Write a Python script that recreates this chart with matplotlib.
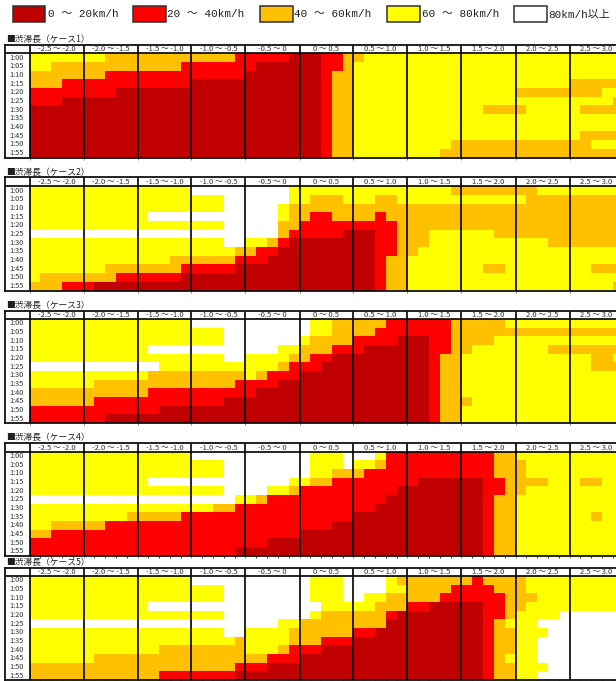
import numpy as np
import matplotlib
matplotlib.use("Agg")
import matplotlib.pyplot as plt
from matplotlib.colors import ListedColormap, BoundaryNorm
from matplotlib.patches import Rectangle

plt.rcParams["font.family"] = ["Noto Sans CJK JP", "DejaVu Sans"]

W, H = 616, 681

# speed classes: 0 dark red, 1 red, 2 orange, 3 yellow, 4 white
speed_labels = ["0 ～ 20km/h", "20 ～ 40km/h", "40 ～ 60km/h", "60 ～ 80km/h", "80km/h以上"]
speed_colors = ["#C00000", "#FF0000", "#FFC000", "#FFFF00", "#FFFFFF"]
times = ["1:00", "1:05", "1:10", "1:15", "1:20", "1:25", "1:30", "1:35", "1:40", "1:45", "1:50", "1:55"]
ranges = ["-2.5 ～ -2.0", "-2.0 ～ -1.5", "-1.5 ～ -1.0", "-1.0 ～ -0.5", "-0.5 ～ 0", "0 ～ 0.5",
          "0.5 ～ 1.0", "1.0 ～ 1.5", "1.5 ～ 2.0", "2.0 ～ 2.5", "2.5 ～ 3.0"]
titles = ["■渋滞長（ケース1）", "■渋滞長（ケース2）", "■渋滞長（ケース3）", "■渋滞長（ケース4）", "■渋滞長（ケース5）"]

case1 = [
    "33333 33222 22222 22221 11110 00112 23333 33333 33333 33333 33333",
    "33222 22222 22221 11111 10000 00112 33333 33333 33333 33333 33333",
    "22222 22111 11111 11111 00000 00122 33333 33333 33333 33333 33333",
    "22211 11111 11111 00000 00000 00122 33333 33333 33333 33333 22222",
    "11111 11100 00000 00000 00000 00122 33333 33333 33333 22222 22233",
    "11100 00000 00000 00000 00000 00122 33333 33333 33333 33333 33332",
    "00000 00000 00000 00000 00000 00122 33333 33333 33222 23333 32222",
    "00000 00000 00000 00000 00000 00122 33333 33333 33333 33333 33333",
    "00000 00000 00000 00000 00000 00122 33333 33333 33333 33333 33333",
    "00000 00000 00000 00000 00000 00122 33333 33333 33333 33333 32222",
    "00000 00000 00000 00000 00000 00122 33333 33332 22222 22222 22333",
    "00000 00000 00000 00000 00000 00122 33333 33322 22222 22222 22222",
]
case2 = [
    "33333 33333 33333 44444 44443 33333 33333 33332 22222 22333 33333",
    "33333 33333 33333 33344 44443 32223 33223 33333 33333 32222 22222",
    "33333 33333 33333 33344 44432 22222 22222 22222 22222 22222 22222",
    "33333 33333 34444 44444 44432 21122 22122 22222 22222 22222 22222",
    "33333 33333 33333 33344 44422 11111 11112 22222 22222 22222 22222",
    "44444 44444 44444 44444 44421 11110 00112 22333 33322 22222 22222",
    "33333 33333 33333 33344 33210 00000 00112 22333 33333 33322 22222",
    "33333 33333 33333 33332 21100 00000 00112 23333 33333 33333 33333",
    "33333 33333 33322 22221 11000 00000 00122 33333 33333 33333 33333",
    "33333 33222 22221 11110 00000 00000 00122 33333 33223 33333 33222",
    "32222 22211 11110 00000 00000 00000 00122 33333 33333 33333 33333",
    "22211 10000 00000 00000 00000 00000 00122 33333 33333 33333 33332",
]
case3 = [
    "33333 33333 33333 44444 44444 43322 22211 11112 22223 33333 33333",
    "33333 33333 33333 33344 44444 43322 22111 11112 22222 22222 22222",
    "33333 33333 33333 33344 44444 32222 11110 00112 22233 33333 33333",
    "33333 33333 34444 44444 44433 22211 10000 00112 23333 33322 22222",
    "33333 33333 33333 33344 33332 21100 00000 00122 33333 33333 33223",
    "44444 44444 44333 33333 33321 11000 00000 00122 33333 33333 33222",
    "33333 33333 32222 22222 32111 00000 00000 00122 33333 33333 33333",
    "33333 32222 22222 22221 11100 00000 00000 00122 33333 33333 33333",
    "22222 22222 21111 11111 10000 00000 00000 00122 33333 33333 33333",
    "22222 21111 11111 11100 00000 00000 00000 00122 23333 33333 33333",
    "11111 11111 11000 00000 00000 00000 00000 00122 33333 33333 33333",
    "11111 11000 00000 00000 00000 00000 00000 00122 33333 33333 33333",
]
case4 = [
    "33333 33333 33333 44444 44444 43334 44311 11111 11122 33333 33333",
    "33333 33333 33333 33344 44444 43334 33211 11111 11122 23333 33333",
    "33333 33333 33333 33344 44444 43322 21111 11111 11122 23333 33333",
    "33333 33333 34444 44444 44443 32211 11111 10000 00112 22233 32233",
    "33333 33333 33333 33344 44332 11111 11110 00000 00112 23333 33333",
    "44444 44444 44444 44443 32111 11111 11100 00000 00122 33333 33333",
    "33333 33333 33333 33221 11111 11111 11000 00000 00122 33333 33333",
    "33333 33332 22221 11111 11111 11111 00000 00000 00122 33333 33233",
    "33222 22111 11111 11111 11111 11100 00000 00000 00122 33333 33333",
    "22111 11111 11111 11111 11111 00000 00000 00000 00122 33333 33333",
    "11111 11111 11111 11111 11000 00000 00000 00000 00122 33333 33333",
    "11111 11111 11111 11110 00000 00000 00000 00000 00122 33333 33333",
]
case5 = [
    "33333 33333 33333 44444 44444 43334 44432 22222 21222 23333 33333",
    "33333 33333 33333 33344 44444 43334 44433 22221 11122 23333 33333",
    "33333 33333 33333 33344 44444 43334 43322 22211 11112 22333 33333",
    "33333 33333 34444 44444 44444 44333 33222 11000 00112 23333 33333",
    "33333 33333 33333 33344 44444 43222 22210 00000 00112 33334 44444",
    "44444 44444 44444 44444 44433 22222 22200 00000 00123 33444 44444",
    "33333 33333 33333 33344 33332 22222 11000 00000 00122 33344 44444",
    "33333 33333 33333 33332 33332 22111 00000 00000 00122 33444 44444",
    "33333 33333 33222 22222 33321 11000 00000 00000 00122 33444 44444",
    "33333 32222 22222 22222 22111 00000 00000 00000 00123 33444 44444",
    "22222 22222 22222 22221 11000 00000 00000 00000 00122 33344 44444",
    "22222 22222 22111 11110 00000 00000 00000 00000 00122 33444 44444",
]
cases = [case1, case2, case3, case4, case5]

# pixel bounds of each table: top, bottom
table_y = [(44.5, 157.5), (177.5, 290.5), (310.5, 423.0), (443.0, 555.7), (567.5, 680.0)]
minor_ticks = [False, False, False, True, True]
x_label, x_data, x_end = 4.5, 29.5, 623.5
col_w = (x_end - x_data) / 55

cmap = ListedColormap(speed_colors)
norm = BoundaryNorm(np.arange(-0.5, 5.5), cmap.N)

fig = plt.figure(figsize=(W / 100, H / 100), dpi=100, facecolor="white")

# legend strip along the top
swatch_x = [12.5, 132.5, 259.5, 386.5, 513.5]
for x, c, label in zip(swatch_x, speed_colors, speed_labels):
    fig.add_artist(Rectangle((x / W, 1 - 21.5 / H), 33 / W, 15.5 / H, transform=fig.transFigure,
                             facecolor=c, edgecolor="#303030", linewidth=1.1))
    fig.text((x + 35) / W, 1 - 14.2 / H, label, fontsize=7.9, va="center", color="#202020",
             family=["Liberation Mono", "Noto Sans CJK JP"])

for case, title, (top, bottom), minor in zip(cases, titles, table_y, minor_ticks):
    grid = np.array([[int(ch) for ch in row.replace(" ", "")] for row in case])
    ax = fig.add_axes([x_label / W, 1 - bottom / H, (x_end - x_label) / W, (bottom - top) / H])
    ax.pcolormesh(np.arange(56), np.arange(13), grid, cmap=cmap, norm=norm)
    ax.set_xlim(-(x_data - x_label) / col_w, 55)
    ax.set_ylim(12, -1)

    # table lines
    for x in range(0, 55, 5):
        ax.axvline(x, color="black", linewidth=1.2)
    ax.axhline(0, color="black", linewidth=1.2)
    for s in ax.spines.values():
        s.set_linewidth(1.3)
        s.set_color("#101010")

    for i, r in enumerate(ranges):
        ax.text(i * 5 + 2.5, -0.47, r, ha="center", va="center", fontsize=5.5, color="#303030")
    for i, t in enumerate(times):
        ax.text(-(x_data - 16.5) / col_w, i + 0.5, t, ha="center", va="center", fontsize=5.3, color="#303030")

    ax.set_yticks([])
    ax.set_xticks(np.arange(0, 55, 5))
    if minor:
        ax.set_xticks(np.arange(55), minor=True)
        ax.tick_params(axis="x", which="minor", length=1.2, width=0.7, color="#303030", labelbottom=False)
    ax.tick_params(axis="x", which="major", length=1.2, width=0.7, color="#808080", labelbottom=False)

    fig.text(6.5 / W, 1 - (top - 5.2) / H, title, fontsize=6.3, va="center", color="#202020")

fig.savefig("out.png", dpi=100)
plt.close(fig)
